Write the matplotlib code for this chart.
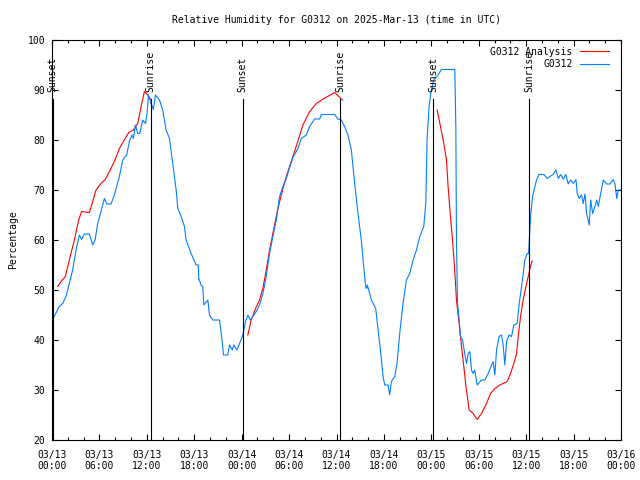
import matplotlib
matplotlib.use('Agg')
import matplotlib.pyplot as plt
import matplotlib.dates as mdates
import numpy as np
import pandas as pd

# hours after 2025-03-13 00:00 UTC
inicio = pd.Timestamp('2025-03-13 00:00')

obs_h = [0.05, 0.92, 1.35, 1.77, 2.19, 2.61, 3.04, 3.46, 3.75, 4.09, 4.73, 5.15, 5.45, 5.78,
         6.2, 6.63, 6.92, 7.47, 7.89, 8.53, 8.95, 9.45, 9.79, 10.13, 10.3, 10.55, 10.85, 11.1,
         11.48, 11.82, 12.03, 12.2, 12.54, 12.83, 13.09, 13.6, 14.01, 14.44, 14.86, 15.28,
         15.71, 15.92, 16.34, 16.76, 16.97, 17.6, 18.24, 18.5, 18.58, 18.66, 18.85, 19.08,
         19.21, 19.72, 19.93, 20.35, 21.2, 21.54, 21.7, 22.25, 22.46, 22.8, 23.0, 23.39,
         23.73, 24.15, 24.49, 24.78, 25.08, 25.42, 25.85, 26.26, 26.68, 27.11, 27.53, 27.95,
         28.38, 28.8, 29.22, 29.65, 30.07, 30.49, 31.12, 31.55, 32.18, 32.6, 33.23, 33.87,
         34.08, 35.77, 36.19, 36.6, 37.03, 37.45, 37.88, 38.3, 38.72, 39.14, 39.44, 39.69,
         39.8, 39.9, 40.42, 40.96, 41.26, 41.56, 41.89, 42.1, 42.52, 42.73, 42.95, 43.37,
         43.66, 44.0, 44.42, 44.85, 45.27, 45.69, 46.12, 46.54, 47.04, 47.3, 47.46, 47.71,
         48.0, 48.3, 48.85, 49.28, 50.97, 51.1, 51.18, 51.31, 51.52, 51.69, 51.95, 52.15,
         52.45, 52.66, 52.87, 53.08, 53.29, 53.5, 53.8, 54.35, 54.77, 55.19, 55.62, 55.82,
         56.04, 56.25, 56.58, 56.88, 57.09, 57.3, 57.52, 57.85, 58.15, 58.44, 58.86, 59.12,
         59.42, 59.84, 60.13, 60.3, 60.56, 60.81, 61.1, 61.32, 61.61, 62.24, 62.66, 63.0,
         63.42, 63.77, 64.06, 64.36, 64.7, 65.03, 65.32, 65.63, 65.96, 66.3, 66.46, 66.72,
         67.0, 67.22, 67.44, 67.65, 67.98, 68.16, 68.42, 68.7, 68.92, 69.13, 69.43, 69.76,
         70.19, 70.61, 71.03, 71.24, 71.46, 71.66, 71.88]
obs_v = [44, 46.7, 47.3, 48.7, 51.3, 54, 58, 61, 60.1, 61.2, 61.2, 59, 60, 63.3,
         65.7, 68.3, 67.2, 67.2, 69, 72.7, 76, 77, 79.7, 81, 80.3, 83, 81.3, 81.3,
         84, 83.3, 85.3, 89, 87.3, 86.1, 89, 88, 86, 82, 80.3, 75.3,
         70, 66.3, 64.7, 62.7, 60, 57.3, 55, 55, 52, 52, 51, 50.7,
         47, 48, 45, 44, 44, 39.7, 37, 37, 39, 38, 39, 38,
         39.3, 41, 43.7, 45, 44, 44.7, 45.7, 47, 49.3, 52.7, 57.3, 60.7,
         64, 68.7, 70.7, 72.3, 74.5, 76.5, 78.3, 80.3, 81, 82.7, 84.2, 84.2,
         85.1, 85.1, 84.2, 84, 82.7, 81, 78, 71.3, 65.3, 60, 54.7, 50.7,
         50.3, 51, 48, 46.3, 42, 38, 32.7, 31, 31, 29, 31.7, 32.7,
         35.3, 41.3, 47.3, 52, 53.3, 56, 58, 60.7, 62.7, 67.3, 80, 86.7,
         90, 92, 93, 94.1, 94.1, 82.7, 60, 47.3, 44, 40.7, 40, 38,
         35.3, 37.3, 37.7, 34, 33.3, 34, 31, 32, 32, 33.3, 35, 35.7,
         33, 38, 40.7, 41, 39, 35, 39.7, 41, 40.7, 43, 43.3, 47.3,
         50.7, 56, 57.3, 57.3, 64.7, 68.7, 70.7, 72, 73.1, 73.1, 72.3, 72.7,
         73.1, 74, 72.3, 73.1, 72.2, 73.1, 71.2, 72, 71.3, 72.1, 69.3, 68.3,
         69, 67.3, 69.2, 65.3, 63, 68, 65.3, 66.7, 68, 66.7, 69.3, 72,
         71.2, 71.2, 72.1, 71.2, 68.3, 70, 70]

# analysis series, NaN marks the gaps
ana_h = [0.71, 1.14, 1.69, 2.19, 2.83, 3.37, 3.75, 4.73, 5.15, 5.57, 6.2, 6.75, 7.26, 7.89,
         8.53, 9.03, 9.71, 10.3, 10.85, 11.28, 11.69, 12.11, 12.54, np.nan,
         24.78, 25.21, 25.76, 26.26, 26.68, 27.11, 27.53, 27.95, 28.38, 28.8, 29.22, 29.65,
         30.07, 30.9, 31.75, 32.6, 33.45, 34.3, 35.1, 35.77, 36.74, np.nan,
         48.73, 49.16, 49.58, 49.92, 50.12, 50.42, 50.68, 50.93, 51.18, 51.52, 51.82, 52.11,
         52.36, 52.78, 53.29, 53.8, 54.35, 54.98, 55.49, 56.04, 56.67, 57.6, 58.02, 58.44,
         58.79, 58.99, 59.29, 59.62, 59.97, 60.26, 60.47, 60.76]
ana_v = [50.7, 51.7, 52.7, 56, 60, 64, 65.7, 65.5, 67.7, 70, 71.3, 72.1, 73.7, 75.7,
         78.3, 79.7, 81.5, 82, 83.3, 86.7, 89.7, 89, 88, np.nan,
         41, 44, 46.3, 48, 50.3, 54, 58, 61.3, 64.7, 67.7, 70.3, 72.7,
         74.7, 78.7, 83, 85.7, 87.3, 88.2, 88.9, 89.5, 88, np.nan,
         86, 82.7, 79.3, 76, 70.7, 64.7, 60, 54.7, 48, 43.3, 38.7, 34.7,
         31, 26, 25.3, 24.1, 25.3, 27.3, 29.3, 30.3, 31, 31.7, 33.3, 35.3,
         37.3, 40.7, 44.7, 48, 50.7, 52.7, 54.3, 55.8]

sol_h = [0.08, 12.49, 24.15, 36.49, 48.22, 60.38]
sol_txt = ['Sunset', 'Sunrise', 'Sunset', 'Sunrise', 'Sunset', 'Sunrise']

def a_fecha(horas):
    return inicio + pd.to_timedelta(np.array(horas, dtype=float), unit='h')

fuente = 'DejaVu Sans Mono'
plt.rcParams['font.family'] = fuente
plt.rcParams['font.size'] = 7

fig = plt.figure(figsize=(6.4, 4.8), dpi=100)
ax = fig.add_axes([52 / 640, 40 / 480, 569 / 640, 400 / 480])

ax.plot(a_fecha(ana_h), ana_v, color='#ff0000', lw=0.8, label='G0312 Analysis')
ax.plot(a_fecha(obs_h), obs_v, color='#0080ff', lw=0.8, label='G0312')

for h, txt in zip(sol_h, sol_txt):
    t = a_fecha([h])[0]
    ax.plot([t, t], [20, 88.2], color='black', lw=0.8)
    ax.text(t, 89.6, txt, rotation=90, ha='center', va='bottom', fontsize=7)

ax.set_xlim(inicio, inicio + pd.Timedelta(hours=72))
ax.set_ylim(20, 100)
ax.set_yticks(range(20, 101, 10))
ax.xaxis.set_major_locator(mdates.HourLocator(byhour=[0, 6, 12, 18]))
ax.xaxis.set_minor_locator(mdates.HourLocator(byhour=range(0, 24, 2)))
ax.xaxis.set_major_formatter(mdates.DateFormatter('%m/%d\n%H:%M'))
ax.tick_params(which='both', direction='in', top=True, right=True, width=0.8)
ax.tick_params(which='major', length=4.5, pad=7)
ax.tick_params(which='minor', length=2.5)
ax.tick_params(axis='y', pad=5)
for s in ax.spines.values():
    s.set_linewidth(0.8)

ax.set_title('Relative Humidity for G0312 on 2025-Mar-13 (time in UTC)', fontsize=7, pad=12.5)
ax.set_ylabel('Percentage', fontsize=7, labelpad=7)

leg = ax.legend(loc='upper right', bbox_to_anchor=(0.99, 1.0), frameon=False,
                markerfirst=False, fontsize=7, handlelength=2.9, handletextpad=0.8,
                labelspacing=0.25, borderaxespad=0.3)

fig.savefig('out.png', dpi=100)
